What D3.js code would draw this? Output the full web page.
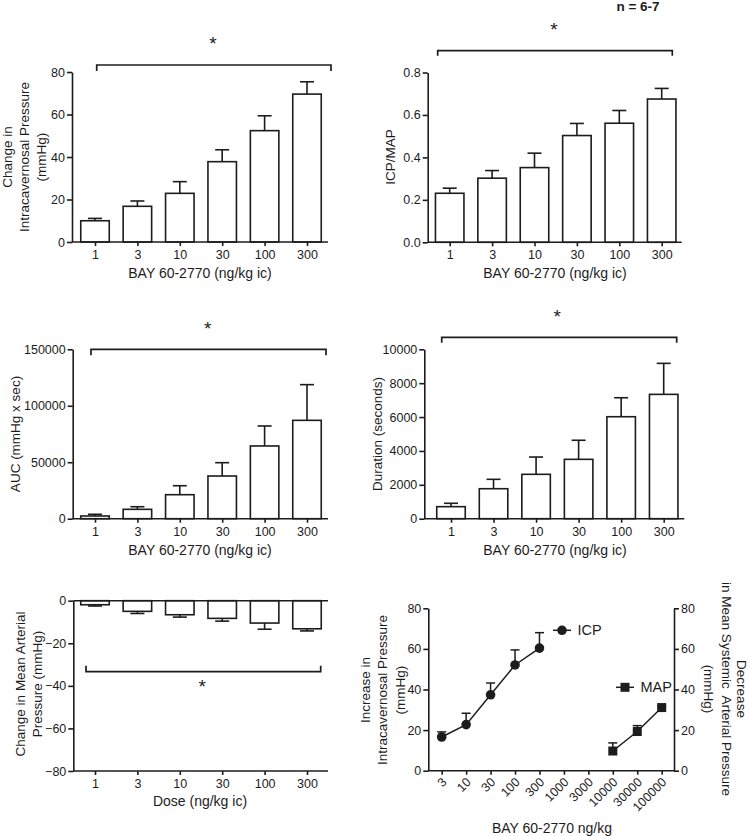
<!DOCTYPE html>
<html><head><meta charset="utf-8">
<script src="https://cdn.jsdelivr.net/npm/d3@7"></script>
<style>
body{margin:0;background:#fff;}
svg{display:block;font-family:"Liberation Sans",Arial,sans-serif;}
</style></head><body>
<svg id="chart" width="750" height="836"></svg>
<script>
// ---- data ----
const doses = ["1","3","10","30","100","300"];
const icpChange = [10.0, 16.8, 22.9, 37.8, 52.4, 69.6];
const icpChangeSem = [1.1, 2.5, 5.5, 5.6, 7.0, 5.8];
const icpMapRatio = [0.231, 0.302, 0.352, 0.503, 0.561, 0.675];
const icpMapRatioSem = [0.024, 0.036, 0.068, 0.057, 0.060, 0.050];
const aucValues = [2400, 8300, 21250, 37800, 64400, 87100];
const aucSem = [1500, 2300, 7950, 11800, 17700, 31600];
const durationValues = [710, 1770, 2620, 3505, 6020, 7340];
const durationSem = [200, 555, 1020, 1125, 1120, 1830];
const mapChange = [-1.9, -5.0, -6.6, -8.3, -10.5, -13.2];
const mapChangeSem = [0.6, 1.0, 1.1, 1.3, 2.9, 1.0];

const logDoses = ["3","10","30","100","300","1000","3000","10000","30000","100000"];
const icpDoses = ["3","10","30","100","300"];
const icpIncrease = [16.6, 22.7, 37.4, 52.1, 60.4];
const icpIncreaseSem = [2.5, 5.6, 5.8, 7.4, 7.6];
const mapDoses = ["10000","30000","100000"];
const mapDecrease = [9.7, 19.3, 31.1];
const mapDecreaseSem = [4.0, 2.9, 0.6];

const ticksIcp = [0,20,40,60,80];
const ticksRatio = [0,0.2,0.4,0.6,0.8];
const ticksAuc = [0,50000,100000,150000];
const ticksDuration = [0,2000,4000,6000,8000,10000];
const ticksMap = [0,-20,-40,-60,-80];

// ---- drawing ----
const ink = "#1c1c1c";
const svg = d3.select("#chart");

function styleAxis(sel){
  sel.selectAll("path,line").attr("stroke", ink).attr("stroke-width", 1.6);
  sel.selectAll("text").attr("fill", ink).attr("font-size", 12.5)
     .attr("font-family", '"Liberation Sans",Arial,sans-serif');
}

function text(g, str, x, y, opts={}) {
  const t = g.append("text").attr("x", x).attr("y", y).text(str)
    .attr("fill", ink).attr("font-size", opts.size || 13.5)
    .attr("text-anchor", opts.anchor || "middle");
  if (opts.dy) t.attr("dy", opts.dy);
  if (opts.weight) t.attr("font-weight", opts.weight);
  if (opts.rotate !== undefined) {
    t.attr("x", 0).attr("y", 0).attr("transform", `translate(${x},${y}) rotate(${opts.rotate})`);
  }
  return t;
}

function bracket(g, x1, x2, y, d) {
  g.append("path").attr("d", `M${x1},${y+d}V${y}H${x2}V${y+d}`)
    .attr("fill","none").attr("stroke", ink).attr("stroke-width", 1.7);
}
function star(g, x, y) {
  text(g, "*", x, y, {size: 19, dy: "0.6em"});
}

function barPanel(o) {
  const g = svg.append("g");
  const x = d3.scalePoint().domain(doses).range([o.c0, o.c1]);
  const y = d3.scaleLinear().domain(o.yDomain).range(o.yRange);
  const bw = 28.5, cap = 14;
  const base = y(0);
  const data = o.values.map((v,i)=>({dose: doses[i], v, e: o.sem[i]}));
  if (o.zeroLine) {
    g.append("line").attr("x1", o.axisX).attr("x2", o.axisEnd)
      .attr("y1", base).attr("y2", base).attr("stroke", ink).attr("stroke-width", 1.6);
  }
  const sign = d => d.v >= 0 ? 1 : -1;
  g.selectAll("line.err").data(data).join("line")
    .attr("x1", d=>x(d.dose)).attr("x2", d=>x(d.dose))
    .attr("y1", d=>y(d.v)).attr("y2", d=>y(d.v + sign(d)*d.e))
    .attr("stroke", ink).attr("stroke-width", 1.6);
  g.selectAll("line.cap").data(data).join("line")
    .attr("x1", d=>x(d.dose)-cap/2).attr("x2", d=>x(d.dose)+cap/2)
    .attr("y1", d=>y(d.v + sign(d)*d.e)).attr("y2", d=>y(d.v + sign(d)*d.e))
    .attr("stroke", ink).attr("stroke-width", 1.6);
  g.selectAll("rect.bar").data(data).join("rect")
    .attr("x", d=>x(d.dose)-bw/2)
    .attr("y", d=>Math.min(y(d.v), base))
    .attr("width", bw).attr("height", d=>Math.abs(y(d.v)-base))
    .attr("fill", "none").attr("stroke", ink).attr("stroke-width", 1.6);
  const ya = d3.axisLeft(y).tickValues(o.yTicks).tickFormat(o.fmt)
    .tickSize(5).tickPadding(2).tickSizeOuter(0);
  g.append("g").attr("transform", `translate(${o.axisX},0)`).call(ya).call(styleAxis);
  const xAxisY = y(o.xAt);
  const xa = d3.axisBottom(x).tickSize(4).tickPadding(4);
  const xg = g.append("g").attr("transform", `translate(0,${xAxisY})`).call(xa).call(styleAxis);
  xg.select(".domain").remove();
  g.append("line").attr("x1", o.axisX).attr("x2", o.axisEnd)
    .attr("y1", xAxisY).attr("y2", xAxisY).attr("stroke", ink).attr("stroke-width", 1.6);
  text(g, o.xTitle, o.xTitleX, xAxisY + o.xTitleDy, {size: 14});
  o.yTitle.forEach((line, i) => {
    text(g, line, o.yTitleX[i], o.yTitleY, {rotate: -90, dy: "0.35em"});
  });
  bracket(g, o.br[0], o.br[1], o.br[2], o.br[3]);
  star(g, o.star[0], o.star[1]);
}

barPanel({
  values: icpChange, sem: icpChangeSem, c0: 95, c1: 307,
  yDomain: [0,80], yRange: [242,72], yTicks: ticksIcp, fmt: d3.format("d"),
  axisX: 72, axisEnd: 328, xAt: 0,
  xTitle: "BAY 60-2770 (ng/kg ic)", xTitleX: 200, xTitleDy: 36,
  yTitle: ["Change in", "Intracavernosal Pressure", "(mmHg)"], yTitleX: [7, 24, 41], yTitleY: 157,
  br: [96.7, 331, 65, 6], star: [213, 39]
});
barPanel({
  values: icpMapRatio, sem: icpMapRatioSem, c0: 449.7, c1: 661.7,
  yDomain: [0,0.8], yRange: [242.3,72.5], yTicks: ticksRatio, fmt: d3.format(".1f"),
  axisX: 427.7, axisEnd: 681.7, xAt: 0,
  xTitle: "BAY 60-2770 (ng/kg ic)", xTitleX: 555, xTitleDy: 36,
  yTitle: ["ICP/MAP"], yTitleX: [390], yTitleY: 157,
  br: [437.7, 672.3, 50.7, 5], star: [554, 25]
});
barPanel({
  values: aucValues, sem: aucSem, c0: 95, c1: 307,
  yDomain: [0,150000], yRange: [518.7,349.3], yTicks: ticksAuc, fmt: d3.format("d"),
  axisX: 72.7, axisEnd: 328, xAt: 0,
  xTitle: "BAY 60-2770 (ng/kg ic)", xTitleX: 200, xTitleDy: 36,
  yTitle: ["AUC (mmHg x sec)"], yTitleX: [15], yTitleY: 434,
  br: [91, 326, 349.3, 6], star: [207.7, 323.3]
});
barPanel({
  values: durationValues, sem: durationSem, c0: 451, c1: 663.7,
  yDomain: [0,10000], yRange: [518.7,349.3], yTicks: ticksDuration, fmt: d3.format("d"),
  axisX: 424.3, axisEnd: 684.3, xAt: 0,
  xTitle: "BAY 60-2770 (ng/kg ic)", xTitleX: 555, xTitleDy: 36,
  yTitle: ["Duration (seconds)"], yTitleX: [377], yTitleY: 434,
  br: [441.7, 676.7, 337.3, 5.5], star: [557.3, 311.7]
});
barPanel({
  values: mapChange, sem: mapChangeSem, c0: 95, c1: 307,
  yDomain: [0,-80], yRange: [600.7,771], yTicks: ticksMap, fmt: d3.format("d"),
  axisX: 73.3, axisEnd: 328, xAt: -80, zeroLine: true,
  xTitle: "Dose (ng/kg ic)", xTitleX: 200, xTitleDy: 35,
  yTitle: ["Change in Mean Arterial", "Pressure (mmHg)"], yTitleX: [20, 37], yTitleY: 684,
  br: [86, 320.7, 671.7, -6], star: [202.3, 681.7]
});

// n label
text(svg, "n = 6-7", 638, 11, {size: 13.5, weight: "bold"});

// ---- dose-response panel ----
(function(){
  const g = svg.append("g");
  const x = d3.scalePoint().domain(logDoses).range([441.7, 661.7]);
  const y = d3.scaleLinear().domain([0,80]).range([770.7, 608.3]);
  const axL = 428.3, axR = 674;
  const icp = icpDoses.map((d,i)=>({dose:d, v:icpIncrease[i], e:icpIncreaseSem[i]}));
  const map = mapDoses.map((d,i)=>({dose:d, v:mapDecrease[i], e:mapDecreaseSem[i]}));
  const line = d3.line().x(d=>x(d.dose)).y(d=>y(d.v));
  const cap = 9;
  [icp, map].forEach(series => {
    g.append("path").datum(series).attr("d", line).attr("fill","none")
      .attr("stroke", ink).attr("stroke-width", 1.5);
    g.selectAll(null).data(series).join("line")
      .attr("x1", d=>x(d.dose)).attr("x2", d=>x(d.dose))
      .attr("y1", d=>y(d.v)).attr("y2", d=>y(d.v+d.e))
      .attr("stroke", ink).attr("stroke-width", 1.5);
    g.selectAll(null).data(series).join("line")
      .attr("x1", d=>x(d.dose)-cap/2).attr("x2", d=>x(d.dose)+cap/2)
      .attr("y1", d=>y(d.v+d.e)).attr("y2", d=>y(d.v+d.e))
      .attr("stroke", ink).attr("stroke-width", 1.5);
  });
  g.selectAll("circle.icp").data(icp).join("circle")
    .attr("cx", d=>x(d.dose)).attr("cy", d=>y(d.v)).attr("r", 4.8).attr("fill", ink);
  const sq = 9;
  g.selectAll("rect.map").data(map).join("rect")
    .attr("x", d=>x(d.dose)-sq/2).attr("y", d=>y(d.v)-sq/2)
    .attr("width", sq).attr("height", sq).attr("fill", ink);

  const yl = d3.axisLeft(y).tickValues(ticksIcp).tickSize(5).tickPadding(2).tickSizeOuter(0);
  g.append("g").attr("transform", `translate(${axL},0)`).call(yl).call(styleAxis);
  const yr = d3.axisRight(y).tickValues(ticksIcp).tickSize(5).tickPadding(2).tickSizeOuter(0);
  g.append("g").attr("transform", `translate(${axR},0)`).call(yr).call(styleAxis);
  const xa = d3.axisBottom(x).tickSize(4).tickPadding(4);
  const xg = g.append("g").attr("transform", `translate(0,${y(0)})`).call(xa).call(styleAxis);
  xg.select(".domain").remove();
  xg.selectAll(".tick text").attr("text-anchor", "end")
    .attr("transform", "translate(2,9) rotate(-45)").attr("dy", "0.35em").attr("y", 0).attr("x", 0);
  g.append("line").attr("x1", axL).attr("x2", axR).attr("y1", y(0)).attr("y2", y(0))
    .attr("stroke", ink).attr("stroke-width", 1.6);

  const leg = [{name:"ICP", cx:562, cy:630.3, shape:"circle"}, {name:"MAP", cx:625, cy:687.3, shape:"square"}];
  leg.forEach(l => {
    g.append("line").attr("x1", l.cx-9).attr("x2", l.cx+9).attr("y1", l.cy).attr("y2", l.cy)
      .attr("stroke", ink).attr("stroke-width", 1.5);
    if (l.shape === "circle") g.append("circle").attr("cx", l.cx).attr("cy", l.cy).attr("r", 4.8).attr("fill", ink);
    else g.append("rect").attr("x", l.cx-sq/2).attr("y", l.cy-sq/2).attr("width", sq).attr("height", sq).attr("fill", ink);
    text(g, l.name, l.cx+15.5, l.cy, {size: 14.5, anchor: "start", dy: "0.35em"});
  });

  text(g, "BAY 60-2770 ng/kg", 552, 833, {size: 14});
  [["Increase in", 365.7], ["Intracavernosal Pressure", 382.3], ["(mmHg)", 400]].forEach(([s, cx]) =>
    text(g, s, cx, 690, {rotate: -90, dy: "0.35em"}));
  [["Decrease", 741.7], ["in Mean Systemic  Arterial Pressure", 726.7], ["(mmHg)", 708.3]].forEach(([s, cx]) =>
    text(g, s, cx, 689, {rotate: 90, dy: "0.35em"}).style("white-space", "pre"));
})();
</script>
</body></html>
